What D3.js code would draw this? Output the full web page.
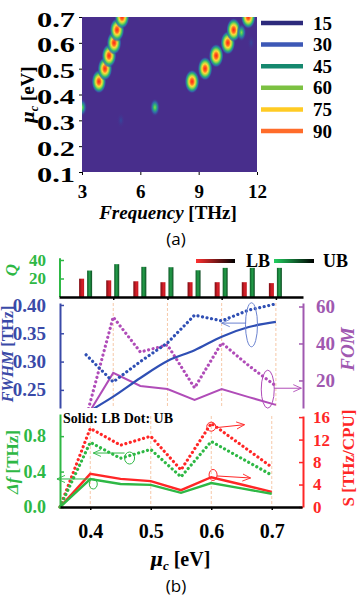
<!DOCTYPE html>
<html>
<head>
<meta charset="utf-8">
<script src="https://cdn.jsdelivr.net/npm/d3@7.9.0/dist/d3.min.js"></script>
<style>
  body { margin: 0; background: #fff; }
  svg { display: block; font-family: "Liberation Serif", serif; font-weight: bold; }
</style>
</head>
<body>
<svg id="chart" width="357" height="596"></svg>
<script>
// ---- panel (a) data
const heatFreqTicks = [3, 6, 9, 12];
const heatMuTicks = [0.1, 0.2, 0.3, 0.4, 0.5, 0.6, 0.7];
const legendLevels = [15, 30, 45, 60, 75, 90];
const legendColors = ['#2d2a7c', '#3d58b6', '#15886e', '#7cc142', '#ffcb24', '#ff6c2a'];
const peakFreq  = [3.87, 4.18, 4.39, 4.65, 4.80, 5.06, 8.66, 9.33, 9.90, 10.50, 10.80, 11.55, 3.0, 6.75, 5.0, 11.2, 11.7];
const peakMu    = [0.45, 0.50, 0.55, 0.60, 0.65, 0.70, 0.45, 0.50, 0.55, 0.60, 0.65, 0.70, 0.35, 0.35, 0.30, 0.64, 0.60];
const peakLevel = ['hot', 'hot', 'hot', 'hot', 'hot', 'hot', 'hot', 'hot', 'hot', 'hot', 'hot', 'hot', 'mid', 'mid', 'low', 'mid', 'low'];

// ---- panel (b) data
const muPts = [0.35, 0.4, 0.45, 0.5, 0.55, 0.6, 0.65, 0.7];
const qLB = [19.8, 18, 17, 16, 16, 16, 16, 15];
const qUB = [28.6, 35.5, 32.6, 32.2, 28.9, 31.5, 31.5, 31.5];
const fwhmLB = [0.209, 0.238, 0.271, 0.301, 0.320, 0.344, 0.361, 0.370];
const fwhmUB = [0.312, 0.264, 0.300, 0.333, 0.382, 0.372, 0.391, 0.402];
const fomLB = [0, 24.1, 17.0, 15.4, 9.5, 15.4, 11.0, 6.8];
const fomUB = [0, 54.3, 35.4, 39.2, 16.0, 40.3, 28.0, 17.0];
const sLB = [0, 5.9, 5.0, 4.6, 3.0, 5.3, 4.0, 2.7];
const sUB = [0, 14.0, 11.0, 12.6, 6.6, 14.9, 11.0, 7.1];
const dfLB = [0, 0.315, 0.26, 0.25, 0.16, 0.27, 0.21, 0.15];
const dfUB = [0, 0.73, 0.55, 0.65, 0.34, 0.74, 0.55, 0.36];
const gridMu = [0.4, 0.5, 0.6, 0.7];
const fwhmTicks = [0.25, 0.30, 0.35, 0.40];
const fomTicks = [20, 40, 60];
const qTicks = [20, 40];
const dfTicks = [0, 0.4, 0.8];
const sTicks = [0, 4, 8, 12, 16];

const BLUE = '#2f4fb4', PURPLE = '#b04cb8', GREEN = '#2eb845', RED = '#ff2626', BG = '#482e8c';

const svg = d3.select('#chart');
const defs = svg.append('defs');

function grad(id, stops, radial) {
  const g = defs.append(radial ? 'radialGradient' : 'linearGradient').attr('id', id);
  stops.forEach(([o, c, op]) => g.append('stop').attr('offset', o).attr('stop-color', c).attr('stop-opacity', op == null ? 1 : op));
  return g;
}
grad('hot', [[0, '#ff1f1a'], [0.22, '#ff6a1e'], [0.4, '#ffd83a'], [0.54, '#9ad848'], [0.68, '#2fb872'], [0.84, '#2e70b0', 0.8], [1, BG, 0]], true);
grad('mid', [[0, '#8ad848'], [0.3, '#2fb872'], [0.62, '#2e70b0', 0.8], [1, BG, 0]], true);
grad('low', [[0, '#2e4ea0', 0.8], [1, BG, 0]], true);
grad('barRed', [[0, '#7a0c12'], [0.6, '#d8202a'], [1, '#c01820']]);
grad('barGreen', [[0, '#0f5a28'], [0.5, '#23a04a'], [1, '#0e4a22']]);
grad('legRed', [[0, '#ff3030'], [1, '#000']]);
grad('legGreen', [[0, '#22d060'], [1, '#000']]);

defs.append('clipPath').attr('id', 'heatClip').append('rect').attr('x', 82).attr('y', 17).attr('width', 175).attr('height', 155);
defs.append('clipPath').attr('id', 'midClip').append('rect').attr('x', 60).attr('y', 303).attr('width', 243).attr('height', 105);

function arrowMarker(id, color) {
  defs.append('marker').attr('id', id).attr('viewBox', '0 0 10 10').attr('refX', 9).attr('refY', 5)
    .attr('markerWidth', 9).attr('markerHeight', 9).attr('markerUnits', 'userSpaceOnUse').attr('orient', 'auto')
    .append('path').attr('d', 'M0,1 L9,5 L0,9').attr('fill', 'none').attr('stroke', color).attr('stroke-width', 1);
}
arrowMarker('arBlue', '#6a82d0');
arrowMarker('arPurple', PURPLE);
arrowMarker('arGreen', GREEN);
arrowMarker('arRed', RED);

// ================= panel (a) heatmap
const hx = d3.scaleLinear().domain([3, 12]).range([82, 257]);
const hy = d3.scaleLinear().domain([0.1, 0.7]).range([172, 17]);
const heat = svg.append('g').attr('clip-path', 'url(#heatClip)');
heat.append('rect').attr('x', hx(3)).attr('y', hy(0.7)).attr('width', hx(12) - hx(3)).attr('height', hy(0.1) - hy(0.7)).attr('fill', BG);
const peaks = peakFreq.map((f, i) => ({ f, mu: peakMu[i], lvl: peakLevel[i] }));
const peakSize = { hot: [7.5, 12], mid: [5, 9], low: [4, 8] };
heat.selectAll('ellipse').data(peaks).join('ellipse')
  .attr('cx', d => hx(d.f)).attr('cy', d => hy(d.mu))
  .attr('rx', d => peakSize[d.lvl][0]).attr('ry', d => peakSize[d.lvl][1])
  .attr('fill', d => `url(#${d.lvl})`);

const hAxL = svg.append('g').attr('transform', `translate(${hx(3)},0)`)
  .call(d3.axisLeft(hy).tickValues(heatMuTicks).tickSize(3).tickPadding(4).tickFormat(d3.format('.1f')));
const hAxB = svg.append('g').attr('transform', `translate(0,${hy(0.1)})`)
  .call(d3.axisBottom(hx).tickValues(heatFreqTicks).tickSize(3).tickPadding(10));
[hAxL, hAxB].forEach(a => {
  a.select('.domain').remove();
  a.selectAll('text').attr('font-size', 19).attr('font-family', 'Liberation Serif').attr('font-weight', 'bold').attr('fill', '#000');
});
hAxL.selectAll('text').attr('font-size', 20).attr('textLength', 38).attr('lengthAdjust', 'spacingAndGlyphs').attr('dy', '0.45em');

// legend
const leg = svg.append('g');
legendLevels.forEach((lv, i) => {
  const y = 23 + i * 21.6;
  leg.append('line').attr('x1', 261).attr('x2', 303).attr('y1', y).attr('y2', y).attr('stroke', legendColors[i]).attr('stroke-width', 4.5);
  leg.append('text').attr('x', 313).attr('y', y).attr('dy', '0.35em').attr('font-size', 19).text(lv);
});

svg.append('text').attr('transform', 'translate(34,95) rotate(-90)').attr('text-anchor', 'middle').attr('font-size', 19)
  .html('<tspan font-style="italic" font-family="DejaVu Serif" font-size="17">μ</tspan><tspan font-style="italic" font-size="12" dy="4">c</tspan><tspan dy="-4"> [eV]</tspan>');
svg.append('text').attr('x', 168).attr('y', 219).attr('text-anchor', 'middle').attr('font-size', 19)
  .html('<tspan font-style="italic">Frequency</tspan> [THz]');
svg.append('text').attr('x', 176).attr('y', 245).attr('text-anchor', 'middle').attr('font-size', 17)
  .attr('font-family', 'Open Sans').attr('font-weight', 'normal').text('(a)');

// ================= panel (b)
const xTop = d3.scaleLinear().domain([0.3, 0.75]).range([59, 303]);
const xBot = d3.scaleLinear().domain([0.35, 0.75]).range([60, 302]);
const yQ = d3.scaleLinear().domain([0, 40]).range([297, 260]);
const yF = d3.scaleLinear().domain([0.218, 0.4035]).range([408, 303]);
const yFom = d3.scaleLinear().domain([5.1, 61.9]).range([408, 303]);
const yDf = d3.scaleLinear().domain([0, 1.05]).range([507, 414]);
const yS = d3.scaleLinear().domain([0, 16.2]).range([507, 416]);

function styleAxis(a, color, size) {
  a.select('.domain').attr('stroke', color).attr('stroke-width', 2);
  a.selectAll('.tick line').attr('stroke', color).attr('stroke-width', 1.5);
  a.selectAll('text').attr('fill', color).attr('font-size', size).attr('font-family', 'Liberation Serif').attr('font-weight', 'bold');
}

// bars
const bars = muPts.map((m, i) => ({ m, lb: qLB[i], ub: qUB[i] }));
svg.append('g').selectAll('rect.lb').data(bars).join('rect')
  .attr('x', d => xTop(d.m) - 7).attr('width', 5).attr('y', d => yQ(d.lb)).attr('height', d => yQ(0) - yQ(d.lb)).attr('fill', 'url(#barRed)');
svg.append('g').selectAll('rect.ub').data(bars).join('rect')
  .attr('x', d => xTop(d.m) + 1).attr('width', 5).attr('y', d => yQ(d.ub)).attr('height', d => yQ(0) - yQ(d.ub)).attr('fill', 'url(#barGreen)');
const qAx = svg.append('g').attr('transform', 'translate(60,0)')
  .call(d3.axisLeft(yQ).tickValues(qTicks).tickSizeInner(-4).tickSizeOuter(0).tickPadding(14));
styleAxis(qAx, GREEN, 17);
qAx.select('.domain').attr('d', `M0,${yQ(42)}V${yQ(0)}`);
const barAx = svg.append('g').attr('transform', `translate(0,${yQ(0)})`)
  .call(d3.axisBottom(xTop).tickValues(gridMu).tickSize(3).tickSizeOuter(0).tickFormat(''));
styleAxis(barAx, '#000', 10);
barAx.select('.domain').attr('stroke-width', 2.5);

// bar legend
svg.append('rect').attr('x', 196).attr('width', 39).attr('y', 259).attr('height', 4).attr('fill', 'url(#legRed)');
svg.append('text').attr('x', 246).attr('y', 267).attr('font-size', 18).text('LB');
svg.append('rect').attr('x', 274).attr('width', 40).attr('y', 259).attr('height', 4).attr('fill', 'url(#legGreen)');
svg.append('text').attr('x', 323).attr('y', 267).attr('font-size', 18).text('UB');
svg.append('text').attr('transform', 'translate(17,270) rotate(-90)').attr('text-anchor', 'middle').attr('font-size', 17)
  .attr('fill', GREEN).attr('font-style', 'italic').text('Q');

// middle panel gridlines
svg.append('g').selectAll('line').data(gridMu).join('line')
  .attr('x1', d => xTop(d)).attr('x2', d => xTop(d)).attr('y1', 303).attr('y2', 408)
  .attr('stroke', '#f6c8a8').attr('stroke-width', 1).attr('stroke-dasharray', '3,2');

const mid = svg.append('g').attr('clip-path', 'url(#midClip)');
const lineF = d3.line().x((d, i) => xTop(muPts[i])).y(d => yF(d));
const lineFom = d3.line().x((d, i) => xTop(muPts[i])).y(d => yFom(d));
const dotted = s => s.attr('fill', 'none').attr('stroke-width', 3.2).attr('stroke-linecap', 'round').attr('stroke-dasharray', '0.01 4.6');
mid.append('path').attr('d', lineFom(fomLB)).attr('fill', 'none').attr('stroke', PURPLE).attr('stroke-width', 2);
mid.append('path').attr('d', lineFom(fomUB)).attr('stroke', PURPLE).call(dotted);
mid.append('path').attr('d', d3.line().curve(d3.curveMonotoneX).x((d, i) => xTop(muPts[i])).y(d => yF(d))(fwhmLB))
  .attr('fill', 'none').attr('stroke', BLUE).attr('stroke-width', 2.2);
mid.append('path').attr('d', lineF(fwhmUB)).attr('stroke', BLUE).call(dotted);

const fAx = svg.append('g').attr('transform', 'translate(60,0)')
  .call(d3.axisLeft(yF).tickValues(fwhmTicks).tickSizeInner(-4).tickSizeOuter(0).tickPadding(14).tickFormat(d3.format('.2f')));
styleAxis(fAx, '#3a4aa8', 19);
const fomAx = svg.append('g').attr('transform', 'translate(303,0)')
  .call(d3.axisRight(yFom).tickValues(fomTicks).tickSizeInner(-4).tickSizeOuter(0).tickPadding(13));
styleAxis(fomAx, '#a058b0', 19);

svg.append('text').attr('transform', 'translate(13,354) rotate(-90)').attr('text-anchor', 'middle').attr('font-size', 16)
  .attr('fill', '#3a4aa8').html('<tspan font-style="italic">FWHM</tspan> [THz]');
svg.append('text').attr('transform', 'translate(354,349) rotate(-90)').attr('text-anchor', 'middle').attr('font-size', 19)
  .attr('fill', '#a058b0').attr('font-style', 'italic').text('FOM');

// middle annotations
svg.append('ellipse').attr('cx', xTop(0.655)).attr('cy', yF(0.365)).attr('rx', 6).attr('ry', 22)
  .attr('fill', 'none').attr('stroke', '#6a82d0').attr('stroke-width', 1);
svg.append('line').attr('x1', xTop(0.645)).attr('x2', xTop(0.6)).attr('y1', yF(0.368)).attr('y2', yF(0.368))
  .attr('stroke', '#6a82d0').attr('stroke-width', 1).attr('marker-end', 'url(#arBlue)');
svg.append('ellipse').attr('cx', xTop(0.685)).attr('cy', yFom(15.3)).attr('rx', 6.5).attr('ry', 19)
  .attr('fill', 'none').attr('stroke', PURPLE).attr('stroke-width', 1);
svg.append('line').attr('x1', xTop(0.697)).attr('x2', xTop(0.747)).attr('y1', yFom(15.8)).attr('y2', yFom(15.8))
  .attr('stroke', PURPLE).attr('stroke-width', 1).attr('marker-end', 'url(#arPurple)');

// lower panel gridlines
svg.append('g').selectAll('line').data(gridMu).join('line')
  .attr('x1', d => xBot(d)).attr('x2', d => xBot(d)).attr('y1', 416).attr('y2', 507)
  .attr('stroke', '#f6c8a8').attr('stroke-width', 1).attr('stroke-dasharray', '3,2');

const lineS = d3.line().x((d, i) => xBot(muPts[i])).y(d => yS(d));
const lineDf = d3.line().x((d, i) => xBot(muPts[i])).y(d => yDf(d));
svg.append('path').attr('d', lineS(sUB)).attr('stroke', RED).call(dotted);
svg.append('path').attr('d', lineDf(dfUB)).attr('stroke', GREEN).call(dotted);
svg.append('path').attr('d', lineS(sLB)).attr('fill', 'none').attr('stroke', RED).attr('stroke-width', 2.4);
svg.append('path').attr('d', lineDf(dfLB)).attr('fill', 'none').attr('stroke', GREEN).attr('stroke-width', 2.4);

const dfAx = svg.append('g').attr('transform', 'translate(60,0)')
  .call(d3.axisLeft(yDf).tickValues(dfTicks).tickSizeInner(-4).tickSizeOuter(0).tickPadding(14).tickFormat(d3.format('.1f')));
styleAxis(dfAx, GREEN, 18);
const sAx = svg.append('g').attr('transform', 'translate(303,0)')
  .call(d3.axisRight(yS).tickValues(sTicks).tickSizeInner(-4).tickSizeOuter(0).tickPadding(10));
styleAxis(sAx, RED, 17);
const botAx = svg.append('g').attr('transform', 'translate(0,507)')
  .call(d3.axisBottom(xBot).tickValues(gridMu).tickSize(3).tickSizeOuter(0).tickPadding(14).tickFormat(d3.format('.1f')));
styleAxis(botAx, '#000', 20);
botAx.select('.domain').attr('stroke-width', 2.5);

svg.append('text').attr('x', 63).attr('y', 423).attr('font-size', 14).text('Solid: LB Dot: UB');
svg.append('text').attr('transform', 'translate(18,462) rotate(-90)').attr('text-anchor', 'middle').attr('font-size', 17)
  .attr('fill', GREEN).html('<tspan font-style="italic">Δf</tspan> [THz]');
svg.append('text').attr('transform', 'translate(354,458) rotate(-90)').attr('text-anchor', 'middle').attr('font-size', 17)
  .attr('fill', RED).text('S [THz/CPU]');

// lower annotations
const ann = [
  { x: 0.465, y: yDf(0.553), rx: 5, ry: 6, c: GREEN, m: 'arGreen', x2: 0.405, dy: -5, dy2: -5 },
  { x: 0.405, y: yDf(0.26), rx: 4, ry: 5, c: GREEN, m: 'arGreen', x2: 0.345, dy: -5, dy2: -5 },
  { x: 0.6, y: yS(14.3), rx: 4.5, ry: 4.5, c: RED, m: 'arRed', x2: 0.655, dy: 1, dy2: -2 },
  { x: 0.603, y: yS(5.7), rx: 4, ry: 5.5, c: RED, m: 'arRed', x2: 0.665, dy: 1, dy2: 3 }
];
ann.forEach(a => {
  svg.append('ellipse').attr('cx', xBot(a.x)).attr('cy', a.y).attr('rx', a.rx).attr('ry', a.ry)
    .attr('fill', 'none').attr('stroke', a.c).attr('stroke-width', 1);
  const sx = a.x2 > a.x ? xBot(a.x) + a.rx : xBot(a.x) - a.rx;
  svg.append('line').attr('x1', sx).attr('y1', a.y + a.dy).attr('x2', xBot(a.x2)).attr('y2', a.y + a.dy2)
    .attr('stroke', a.c).attr('stroke-width', 1).attr('marker-end', `url(#${a.m})`);
});

svg.append('text').attr('x', 180).attr('y', 566).attr('text-anchor', 'middle').attr('font-size', 20)
  .html('<tspan font-style="italic" font-family="DejaVu Serif" font-size="18">μ</tspan><tspan font-style="italic" font-size="13" dy="4">c</tspan><tspan dy="-4"> [eV]</tspan>');
svg.append('text').attr('x', 176).attr('y', 592).attr('text-anchor', 'middle').attr('font-size', 17)
  .attr('font-family', 'Open Sans').attr('font-weight', 'normal').text('(b)');
</script>
</body>
</html>
